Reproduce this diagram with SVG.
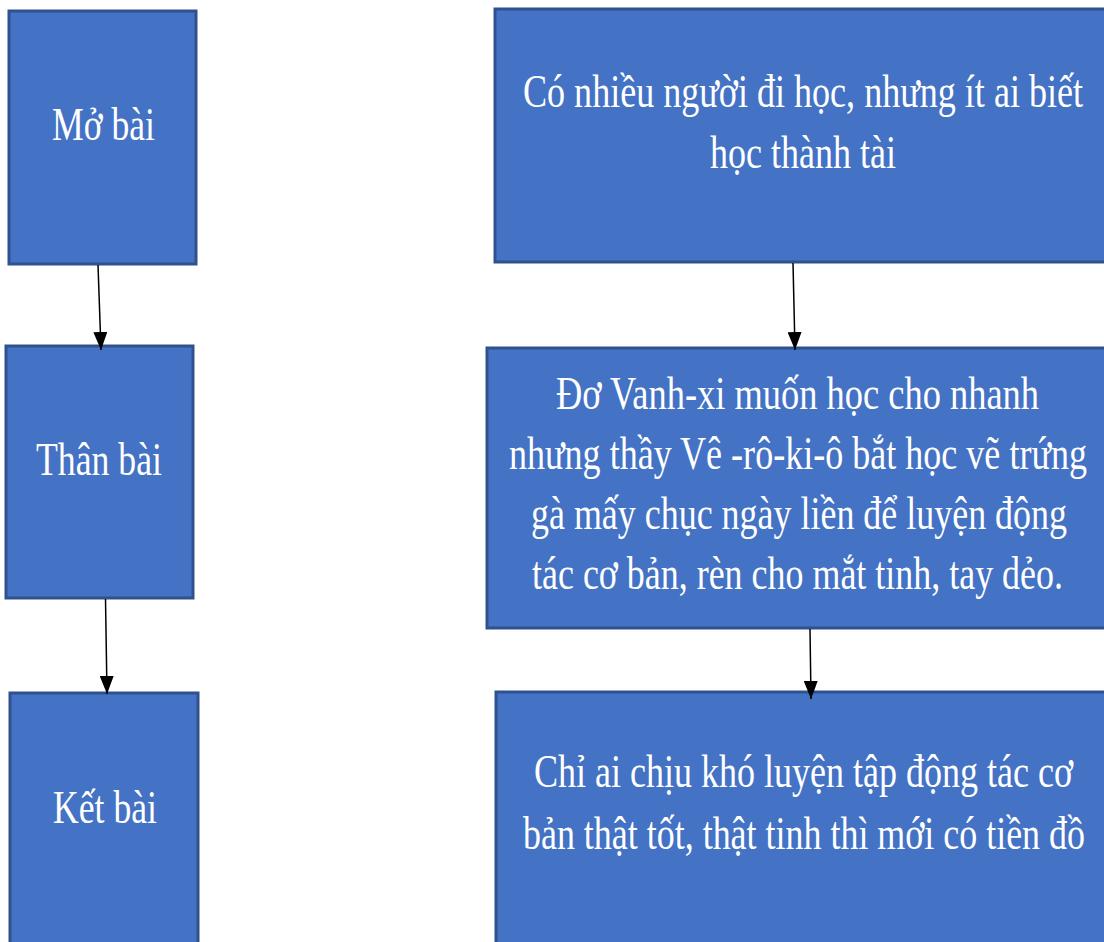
<svg xmlns="http://www.w3.org/2000/svg" width="1104" height="942" viewBox="0 0 1104 942">
<style>
.box{fill:#4472C4;stroke:#2F528F;stroke-width:3}
.t{font-family:"Liberation Serif","Times New Roman",serif;font-size:46px;fill:#ffffff}
.c{stroke:#000000;stroke-width:1.5;fill:none}
</style>
<defs>
<marker id="ah" markerUnits="userSpaceOnUse" markerWidth="18" markerHeight="14" refX="18" refY="7" orient="auto">
<path d="M0,0 L18,7 L0,14 z" fill="#000000"/>
</marker>
</defs>
<rect width="1104" height="942" fill="#ffffff"/>
<g id="mo-bai">
<rect class="box" x="9" y="11" width="187" height="253"/>
<text class="t" x="52" y="140" textLength="103" lengthAdjust="spacingAndGlyphs">Mở bài</text>
</g>
<g id="than-bai">
<rect class="box" x="6" y="346" width="187" height="252"/>
<text class="t" x="36" y="475" textLength="126" lengthAdjust="spacingAndGlyphs">Thân bài</text>
</g>
<g id="ket-bai">
<rect class="box" x="10" y="693" width="188" height="260"/>
<text class="t" x="53" y="823" textLength="104" lengthAdjust="spacingAndGlyphs">Kết bài</text>
</g>
<g id="mo-bai-noi-dung">
<rect class="box" x="495" y="9" width="620" height="253"/>
<text class="t" x="523" y="107" textLength="560" lengthAdjust="spacingAndGlyphs">Có nhiều người đi học, nhưng ít ai biết</text>
<text class="t" x="710" y="168" textLength="186" lengthAdjust="spacingAndGlyphs">học thành tài</text>
</g>
<g id="than-bai-noi-dung">
<rect class="box" x="487" y="348" width="630" height="280"/>
<text class="t" x="556" y="409" textLength="483" lengthAdjust="spacingAndGlyphs">Đơ Vanh-xi muốn học cho nhanh</text>
<text class="t" x="509" y="469" textLength="578" lengthAdjust="spacingAndGlyphs">nhưng thầy Vê -rô-ki-ô bắt học vẽ trứng</text>
<text class="t" x="531" y="529" textLength="536" lengthAdjust="spacingAndGlyphs">gà mấy chục ngày liền để luyện động</text>
<text class="t" x="532" y="589" textLength="531" lengthAdjust="spacingAndGlyphs">tác cơ bản, rèn cho mắt tinh, tay dẻo.</text>
</g>
<g id="ket-bai-noi-dung">
<rect class="box" x="496" y="692" width="620" height="260"/>
<text class="t" x="534" y="787" textLength="539" lengthAdjust="spacingAndGlyphs">Chỉ ai chịu khó luyện tập động tác cơ</text>
<text class="t" x="523" y="849" textLength="562" lengthAdjust="spacingAndGlyphs">bản thật tốt, thật tinh thì mới có tiền đồ</text>
</g>
<g id="connectors">
<line class="c" x1="98" y1="265" x2="101" y2="350" marker-end="url(#ah)"/>
<line class="c" x1="105.5" y1="599" x2="107" y2="694" marker-end="url(#ah)"/>
<line class="c" x1="793" y1="263" x2="795" y2="350" marker-end="url(#ah)"/>
<line class="c" x1="810" y1="629" x2="811" y2="699" marker-end="url(#ah)"/>
</g>
</svg>
